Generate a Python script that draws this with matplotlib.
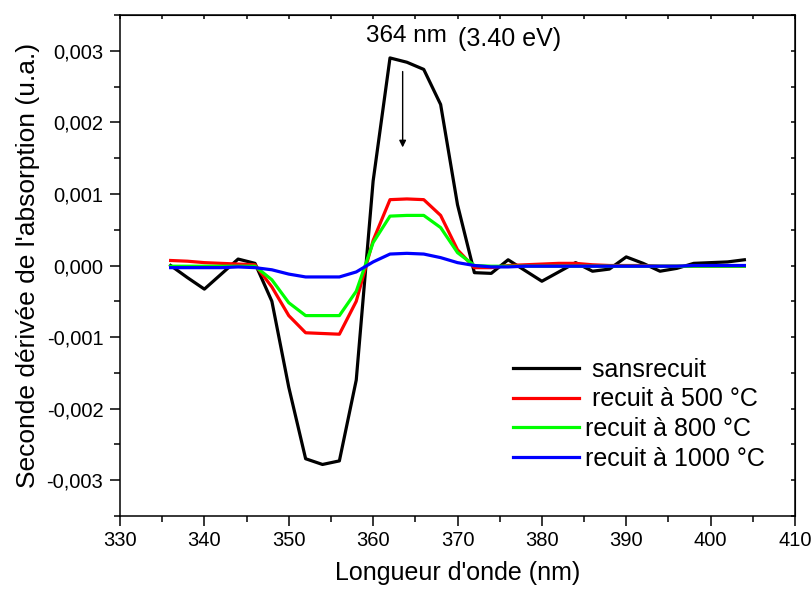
import matplotlib
matplotlib.use("Agg")
import matplotlib.pyplot as plt
from matplotlib.ticker import MultipleLocator, FuncFormatter

plt.rcParams['font.family'] = ['Liberation Sans', 'DejaVu Sans']

wavelength = [336, 338, 340, 342, 344, 346, 348, 350, 352, 354, 356, 358, 360,
              362, 364, 366, 368, 370, 372, 374, 376, 378, 380, 382, 384, 386,
              388, 390, 392, 394, 396, 398, 400, 402, 404]

sans_recuit = [0.00000, -0.00017, -0.00033, -0.00012, 0.00009, 0.00003, -0.00050,
               -0.00170, -0.00270, -0.00278, -0.00273, -0.00160, 0.00118,
               0.00290, 0.00284, 0.00274, 0.00225, 0.00085, -0.00010, -0.00011,
               0.00008, -0.00007, -0.00022, -0.00009, 0.00004, -0.00008,
               -0.00005, 0.00012, 0.00003, -0.00008, -0.00004, 0.00003,
               0.00004, 0.00005, 0.00008]

recuit_500 = [0.00007, 0.00006, 0.00004, 0.00003, 0.00002, 0.00001, -0.00030,
              -0.00070, -0.00094, -0.00095, -0.00096, -0.00050, 0.00035,
              0.00092, 0.00093, 0.00092, 0.00070, 0.00022, -0.00003, -0.00003,
              0.00000, 0.00001, 0.00002, 0.00003, 0.00003, 0.00001, 0.00000,
              0.00000, 0.00000, -0.00001, -0.00001, -0.00001, -0.00001,
              -0.00001, -0.00001]

recuit_800 = [-0.00001, -0.00001, -0.00001, -0.00001, -0.00001, -0.00001, -0.00020,
              -0.00052, -0.00070, -0.00070, -0.00070, -0.00036, 0.00032,
              0.00069, 0.00070, 0.00070, 0.00053, 0.00018, 0.00000, -0.00001,
              -0.00001, -0.00001, -0.00001, -0.00001, -0.00001, -0.00001,
              -0.00001, -0.00001, -0.00001, -0.00001, -0.00001, -0.00001,
              -0.00001, -0.00001, -0.00001]

recuit_1000 = [-0.00003, -0.00003, -0.00003, -0.00003, -0.00002, -0.00003, -0.00006,
               -0.00012, -0.00016, -0.00016, -0.00016, -0.00009, 0.00005,
               0.00016, 0.00017, 0.00016, 0.00011, 0.00004, 0.00000, -0.00002,
               -0.00002, -0.00001, -0.00001, -0.00001, -0.00001, -0.00001,
               -0.00001, -0.00001, -0.00001, -0.00001, -0.00001, 0.00000,
               0.00000, 0.00000, 0.00000]

series = [
    (sans_recuit, ' sansrecuit', '#000000'),
    (recuit_500, ' recuit à 500 °C', '#ff0000'),
    (recuit_800, 'recuit à 800 °C', '#00ff00'),
    (recuit_1000, 'recuit à 1000 °C', '#0000ff'),
]

fig = plt.figure(figsize=(8.12, 5.94), dpi=100)
ax = fig.add_axes([120/812, 78/594, 675/812, 501/594])

for ys, lab, col in series:
    ax.plot(wavelength, ys, color=col, lw=2.3, label=lab)

ax.set_xlim(330, 410)
ax.set_ylim(-0.0035, 0.0035)
ax.xaxis.set_major_locator(MultipleLocator(10))
ax.xaxis.set_minor_locator(MultipleLocator(5))
ax.yaxis.set_major_locator(MultipleLocator(0.001))
ax.yaxis.set_minor_locator(MultipleLocator(0.0005))

def yfmt(v, pos):
    s = f"{v:.3f}"
    if s == "-0.000":
        s = "0.000"
    return s.replace('.', ',')

ax.yaxis.set_major_formatter(FuncFormatter(yfmt))
ax.tick_params(which='major', direction='out', length=7, width=1.1)
ax.tick_params(which='minor', direction='out', length=4.5, width=1.1)
ax.tick_params(axis='x', labelsize=14.5, pad=4)
ax.tick_params(axis='y', labelsize=14.5, pad=5)
for sp in ax.spines.values():
    sp.set_linewidth(1.1)

top = ax.secondary_xaxis('top')
top.xaxis.set_major_locator(MultipleLocator(10))
top.xaxis.set_minor_locator(MultipleLocator(5))
top.tick_params(which='both', direction='in', length=3, width=1.1, labeltop=False)
right = ax.secondary_yaxis('right')
right.yaxis.set_major_locator(MultipleLocator(0.001))
right.yaxis.set_minor_locator(MultipleLocator(0.0005))
right.tick_params(which='both', direction='in', length=3, width=1.1, labelright=False)

ax.set_xlabel("Longueur d'onde (nm)", fontsize=18, labelpad=8)
ax.set_ylabel("Seconde dérivée de l'absorption (u.a.)", fontsize=19, labelpad=5)

ax.text(363.9, 0.00321, "364 nm", fontsize=17.5, ha='center', va='center')
ax.text(370.1, 0.00317, "(3.40 eV)", fontsize=18, ha='left', va='center')
ax.annotate("", xy=(363.5, 0.00165), xytext=(363.5, 0.00271),
            arrowprops=dict(arrowstyle='-|>', color='black', lw=1.0,
                            mutation_scale=10, shrinkA=0, shrinkB=0))

leg = ax.legend(loc='upper left', bbox_to_anchor=(0.582, 0.316), frameon=False,
                fontsize=18, handlelength=2.64, handletextpad=0.24,
                labelspacing=0.23, borderpad=0, borderaxespad=0)

fig.savefig("out.png", dpi=100)
